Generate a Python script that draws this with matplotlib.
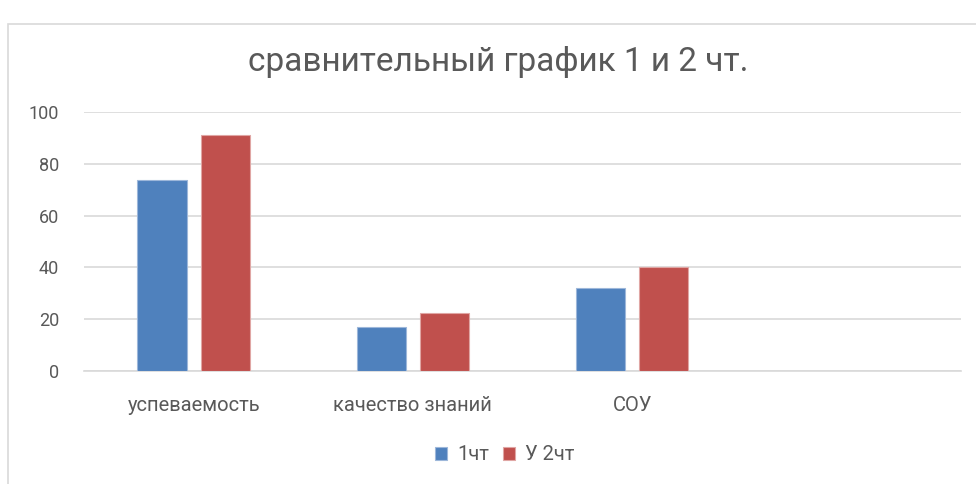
import numpy as np
import matplotlib.pyplot as plt
from matplotlib.patches import Rectangle

plt.rcParams['font.family'] = ['Roboto', 'DejaVu Sans']

categories = ['успеваемость', 'качество знаний', 'СОУ', '']
series_names = ['1чт', 'У 2чт']
values_1 = [73.7, 16.8, 32.2, np.nan]
values_2 = [91.3, 22.5, 40.2, np.nan]
yticks = [0, 20, 40, 60, 80, 100]

blue = '#4F81BD'
red = '#C0504D'
grid_col = '#D9D9D9'
text_col = '#595959'

fig = plt.figure(figsize=(9.76, 4.84), dpi=100)

# chart outer border (only top and left visible in the crop)
fig.patches.append(Rectangle((8 / 976, -0.1), 1.2, 1 - 24 / 484 + 0.1,
                             transform=fig.transFigure, fill=False,
                             edgecolor=grid_col, linewidth=1.2))

ax = fig.add_axes([84 / 976, 1 - 371 / 484, (961 - 84) / 976, (371 - 112) / 484])

x = np.arange(len(categories))
w = 0.224
gap = 0.064
ax.bar(x - (w + gap) / 2, values_1, w, color=blue, edgecolor='#9DB7DA',
       linewidth=0.8, label=series_names[0], zorder=3)
ax.bar(x + (w + gap) / 2, values_2, w, color=red, edgecolor='#E0A6A4',
       linewidth=0.8, label=series_names[1], zorder=3)

ax.set_xlim(-0.5, len(categories) - 0.5)
ax.set_ylim(0, 100)
ax.set_yticks(yticks)
ax.set_xticks(x)
ax.set_xticklabels(categories)
ax.tick_params(length=0, colors=text_col)
ax.tick_params(axis='y', pad=18, labelsize=13)
ax.tick_params(axis='x', pad=18, labelsize=14.5)
ax.yaxis.grid(True, color=grid_col, linewidth=1.2, zorder=0)
for s in ['top', 'right', 'left']:
    ax.spines[s].set_visible(False)
ax.spines['bottom'].set_color(grid_col)
ax.spines['bottom'].set_linewidth(1.2)
ax.set_axisbelow(True)

fig.text(498 / 976, 1 - 62 / 484, 'сравнительный график 1 и 2 чт.',
         ha='center', va='center', fontsize=24, color=text_col)

fig.legend(loc='center', bbox_to_anchor=(505 / 976, 1 - 455 / 484), ncol=2,
           frameon=False, fontsize=14.5, labelcolor=text_col,
           handlelength=0.6, handleheight=0.6, handletextpad=0.5,
           columnspacing=0.7)

fig.savefig('out.png', dpi=100)
